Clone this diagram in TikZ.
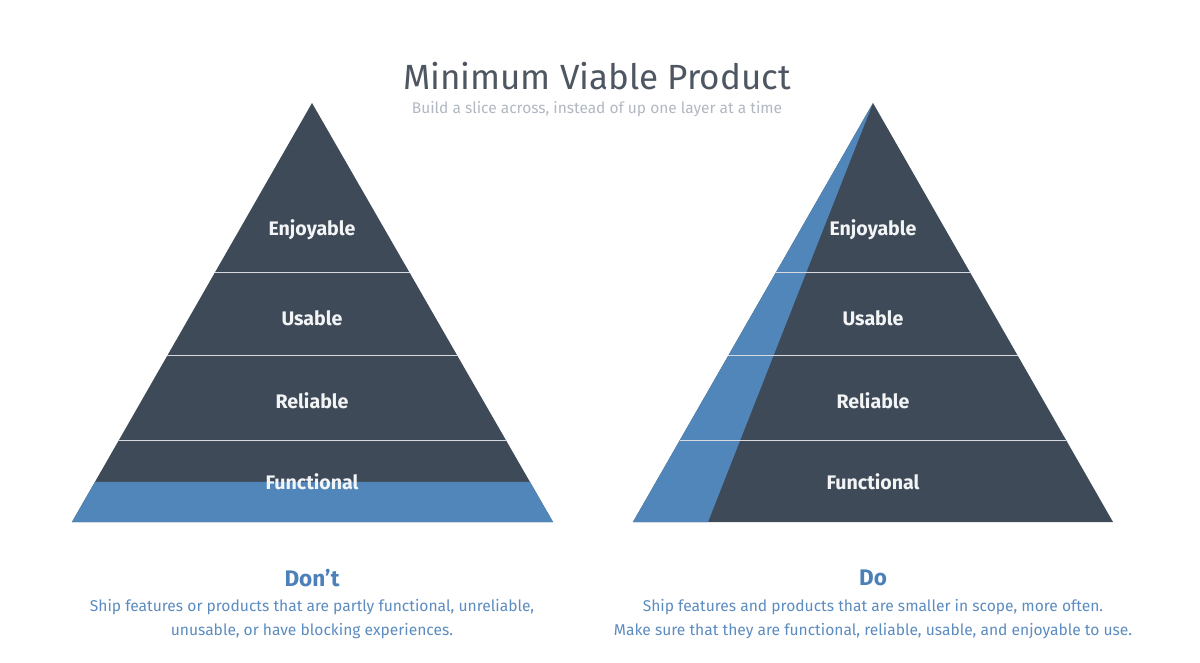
\documentclass[tikz,border=0pt]{standalone}
\usepackage{fontspec}
\setmainfont{Fira Sans}
\usepackage{tikz}
\usetikzlibrary{calc,positioning}
\usepackage{xcolor}
\definecolor{slatecol}{RGB}{62,74,87}
\definecolor{slicecol}{RGB}{80,134,186}
\definecolor{titlecol}{RGB}{78,86,97}
\definecolor{subcol}{RGB}{178,184,194}
\definecolor{headcol}{RGB}{76,128,184}
\definecolor{notecol}{RGB}{92,140,192}
\definecolor{labelcol}{RGB}{242,244,246}
\definecolor{linecol}{RGB}{214,218,224}
\tikzset{
  % layer name inside a pyramid
  layerlabel/.style={font=\fontsize{19.6}{22}\selectfont\bfseries, text=labelcol},
  % thin separator between layers
  layerline/.style={draw=linecol, line width=1pt},
  % Don't / Do heading
  verdict/.style={font=\fontsize{22.5}{26}\selectfont\bfseries, text=headcol},
  % explanation under a pyramid
  note/.style={font=\fontsize{15.6}{24}\selectfont, text=notecol, align=center},
}

\begin{document}
\begin{tikzpicture}[x=1pt, y=-1pt]
  \useasboundingbox[fill=white] (0,0) rectangle (1200,663);

  % ═══════ TITLE ═══════
  \node[font=\fontsize{35}{38}\selectfont, text=titlecol] (title) at (597,76) {Minimum Viable Product};
  \node[font=\fontsize{15.5}{17}\selectfont, text=subcol] (subtitle) at (597,109)
    {Build a slice across, instead of up one layer at a time};

  % ═══════ LEFT PYRAMID (Don't) ═══════
  \coordinate (topL) at (312,103);
  \coordinate (blL) at (72,522);
  \coordinate (brL) at (553,522);
  \fill[slatecol] (topL) -- (blL) -- (brL) -- cycle;
  % only the bottom layer, half built
  \fill[slicecol] ($(topL)!0.9045!(blL)$) -- (blL) -- (brL) -- ($(topL)!0.9045!(brL)$) -- cycle;
  \foreach \t in {0.4057,0.6038,0.8043}
    \draw[layerline] ($(topL)!\t!(blL)$) -- ($(topL)!\t!(brL)$);
  \node[layerlabel] (enjL) at (312,230) {Enjoyable};
  \node[layerlabel] (useL) at (312,318) {Usable};
  \node[layerlabel] (relL) at (312,401) {Reliable};
  \node[layerlabel] (funL) at (312,482) {Functional};

  % ═══════ RIGHT PYRAMID (Do) ═══════
  \coordinate (topR) at (873,103);
  \coordinate (blR) at (633,522);
  \coordinate (brR) at (1113,522);
  \coordinate (cutR) at (708,522);
  \fill[slatecol] (topR) -- (blR) -- (brR) -- cycle;
  % thin slice through every layer
  \fill[slicecol] (topR) -- (blR) -- (cutR) -- cycle;
  \foreach \t in {0.4057,0.6038,0.8043}
    \draw[layerline] ($(topR)!\t!(blR)$) -- ($(topR)!\t!(brR)$);
  \node[layerlabel] (enjR) at (873,230) {Enjoyable};
  \node[layerlabel] (useR) at (873,318) {Usable};
  \node[layerlabel] (relR) at (873,401) {Reliable};
  \node[layerlabel] (funR) at (873,482) {Functional};

  % ═══════ CAPTIONS ═══════
  \node[verdict] (dont) at (312,578) {Don’t};
  \node[note] (dontnote) at (312,619)
    {Ship features or products that are partly functional, unreliable,\\
     unusable, or have blocking experiences.};
  \node[verdict] (do) at (873,578) {Do};
  \node[note] (donote) at (873,619)
    {Ship features and products that are smaller in scope, more often.\\
     Make sure that they are functional, reliable, usable, and enjoyable to use.};

\end{tikzpicture}
\end{document}
